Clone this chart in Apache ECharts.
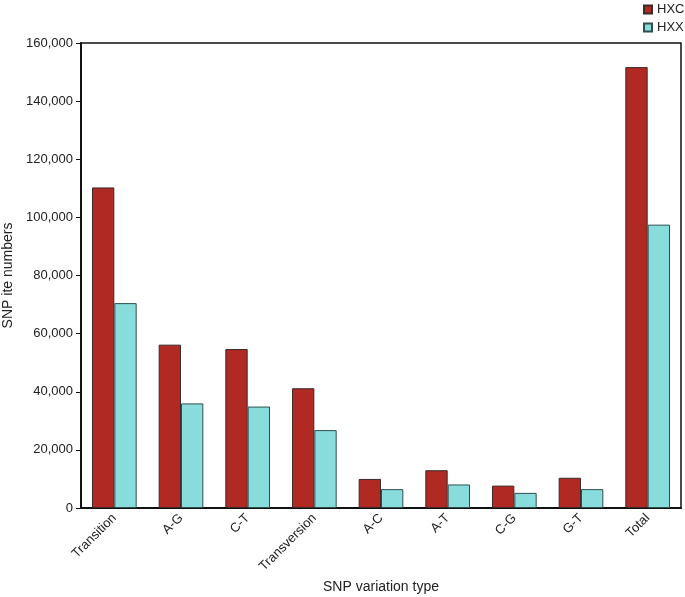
<!DOCTYPE html>
<html>
<head>
<meta charset="utf-8">
<script src="https://cdn.jsdelivr.net/npm/echarts@6/dist/echarts.min.js"></script>
<style>html,body{margin:0;padding:0;background:#fff;}#c{width:685px;height:597px;}</style>
</head>
<body>
<div id="c"></div>
<script>
const categories = ['Transition','A-G','C-T','Transversion','A-C','A-T','C-G','G-T','Total'];
const hxc = [110300, 56200, 54700, 41200, 10000, 13000, 7700, 10400, 151700];
const hxx = [70500, 36000, 34900, 26800, 6500, 8100, 5200, 6500, 97500];
const yTicks = {min: 0, max: 160000, interval: 20000};

const chart = echarts.init(document.getElementById('c'));
const font = 'Liberation Sans, Arial, sans-serif';
chart.setOption({
  animation: false,
  textStyle: {fontFamily: font},
  legend: {
    orient: 'vertical', left: 638, top: -2, itemWidth: 8, itemHeight: 8, itemGap: 5,
    icon: 'rect',
    textStyle: {fontSize: 13, color: '#222', fontFamily: font},
    data: ['HXC','HXX']
  },
  grid: {left: 81, right: 4, top: 43, bottom: 89, containLabel: false, outerBoundsMode: 'none',
    show: true, borderColor: '#111', borderWidth: 1.5},
  xAxis: {
    type: 'category', data: categories,
    name: 'SNP variation type', nameLocation: 'middle', nameGap: 69,
    nameTextStyle: {fontSize: 14, color: '#222', fontFamily: font},
    axisLine: {lineStyle: {color: '#111', width: 2}},
    axisTick: {inside: true, length: 4, lineStyle: {color: '#111'}},
    axisLabel: {rotate: 45, fontSize: 13, color: '#222', fontFamily: font, interval: 0, margin: 8}
  },
  yAxis: {
    type: 'value', min: yTicks.min, max: yTicks.max, interval: yTicks.interval,
    name: 'SNP ite numbers', nameLocation: 'middle', nameGap: 62,
    nameTextStyle: {fontSize: 14, color: '#222', fontFamily: font},
    axisLine: {show: true, lineStyle: {color: '#111', width: 2}},
    axisTick: {show: true, length: 5, lineStyle: {color: '#111'}},
    splitLine: {show: false},
    axisLabel: {fontSize: 13, color: '#222', fontFamily: font, margin: 8,
      formatter: v => v.toLocaleString('en-US')}
  },
  series: [
    {name: 'HXC', type: 'bar', data: hxc, barGap: '0%', barCategoryGap: '33%',
     itemStyle: {color: '#b02923', borderColor: '#3a2a2a', borderWidth: 1}},
    {name: 'HXX', type: 'bar', data: hxx, barGap: '0%', barCategoryGap: '33%',
     itemStyle: {color: '#88dcdc', borderColor: '#2f4f4f', borderWidth: 1}}
  ]
});
</script>
</body>
</html>
